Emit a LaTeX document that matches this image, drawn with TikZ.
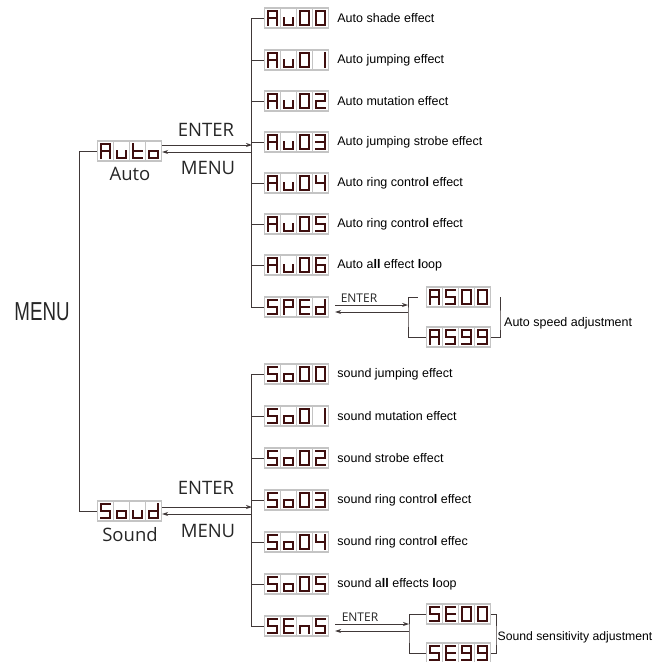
\documentclass[tikz,border=0pt]{standalone}
\usepackage{fontspec}
\setmainfont{Liberation Sans}
\newfontfamily\humfont{Open Sans}
\newfontfamily\narrowfont[FakeStretch=0.72]{Liberation Sans}
\usetikzlibrary{arrows.meta,positioning,calc}
\definecolor{ledred}{RGB}{62,14,14}
\definecolor{ledgrey}{RGB}{196,196,196}
\definecolor{treeline}{RGB}{64,56,56}

% seven segment glyphs, strokes x1/y1/x2/y2 in a -1..1 by -2..2 cell
\newcommand\defseg[2]{\expandafter\def\csname seg#1\endcsname{#2}}
\defseg{0}{-1/2/1/2, 1/2/1/-2, -1/-2/1/-2, -1/2/-1/-2}
\defseg{1}{1/2/1/-2}
\defseg{2}{-1/2/1/2, 1/2/1/0, -1/0/1/0, -1/0/-1/-2, -1/-2/1/-2}
\defseg{3}{-1/2/1/2, 1/2/1/-2, -1/0/1/0, -1/-2/1/-2}
\defseg{4}{-1/2/-1/0, -1/0/1/0, 1/2/1/-2}
\defseg{5}{-1/2/1/2, -1/2/-1/0, -1/0/1/0, 1/0/1/-2, -1/-2/1/-2}
\defseg{6}{-1/2/1/2, -1/2/-1/-2, -1/0/1/0, 1/0/1/-2, -1/-2/1/-2}
\defseg{9}{-1/2/1/2, 1/2/1/-2, -1/2/-1/0, -1/0/1/0, -1/-2/1/-2}
\defseg{A}{-1/2/1/2, 1/2/1/-2, -1/2/-1/-2, -1/0/1/0}
\defseg{S}{-1/2/1/2, -1/2/-1/0, -1/0/1/0, 1/0/1/-2, -1/-2/1/-2}
\defseg{E}{-1/2/1/2, -1/2/-1/-2, -1/0/1/0, -1/-2/1/-2}
\defseg{P}{-1/2/1/2, 1/2/1/0, -1/2/-1/-2, -1/0/1/0}
\defseg{d}{1/2/1/-2, -1/0/1/0, -1/0/-1/-2, -1/-2/1/-2}
\defseg{n}{-1/0/1/0, -1/0/-1/-2, 1/0/1/-2}
\defseg{o}{-1/0/1/0, 1/0/1/-2, -1/-2/1/-2, -1/0/-1/-2}
\defseg{t}{-1/2/-1/-2, -1/0/1/0, -1/-2/1/-2}
\defseg{u}{-1/0/-1/-2, -1/-2/1/-2, 1/0/1/-2}

\newcommand\ledword[2]{%
  \edef\ledlist{#2}%
  \foreach \ledch [count=\ledk] in \ledlist {%
    \begin{scope}[shift={($(#1.west)+(\ledk*16-8,0)$)}]
      \draw[ledcell] (-8,-10) rectangle (8,10);
      \edef\seglist{\csname seg\ledch\endcsname}%
      \foreach \xa/\ya/\xb/\yb in \seglist
        \draw[ledseg] (4.6*\xa,-3.7*\ya) -- (4.6*\xb,-3.7*\yb);
    \end{scope}
  }%
}

\begin{document}
\begin{tikzpicture}[x=1pt,y=-1pt,
  ledbox/.style={minimum width=64pt, minimum height=20pt, inner sep=0pt},
  ledcell/.style={draw=ledgrey, fill=white, line width=1.1pt},
  ledseg/.style={draw=ledred, line width=2pt, line cap=rect},
  fxlabel/.style={font=\fontsize{12.5}{14}\selectfont, inner sep=0pt},
  bigtxt/.style={font=\humfont\fontsize{18.5}{20}\selectfont, text=black!85, inner sep=0pt},
  smalltxt/.style={font=\humfont\fontsize{12}{14}\selectfont, text=black!85, inner sep=0pt},
  tree/.style={draw=treeline, line width=0.9pt},
  flow/.style={draw=treeline, line width=0.8pt, -{Stealth[length=6pt,width=4pt]}}]
  \useasboundingbox (0,0) rectangle (657,662);

  \node[font=\narrowfont\fontsize{26}{28}\selectfont, text=black!85, inner sep=0pt] (menu) at (42,312) {MENU};

  % auto branch
  \node[ledbox] (auto) at (130,151) {};
  \node[bigtxt, below=6pt of auto] (autolbl) {Auto};
  \node[bigtxt] (autoenter) at (206,130) {ENTER};
  \node[bigtxt] (automenu) at (208,168) {MENU};

  \node[ledbox] (au00) at (297,18) {};
  \node[ledbox] (au01) at (297,60) {};
  \node[ledbox] (au02) at (297,101) {};
  \node[ledbox] (au03) at (297,142) {};
  \node[ledbox] (au04) at (297,183) {};
  \node[ledbox] (au05) at (297,224) {};
  \node[ledbox] (au06) at (297,265) {};
  \node[ledbox] (sped) at (297,307) {};
  \node[fxlabel, right=8pt of au00] {Auto shade effect};
  \node[fxlabel, right=8pt of au01] {Auto jumping effect};
  \node[fxlabel, right=8pt of au02] {Auto mutation effect};
  \node[fxlabel, right=8pt of au03] {Auto jumping strobe effect};
  \node[fxlabel, right=8pt of au04] {Auto ring contro\textbf{l} effect};
  \node[fxlabel, right=8pt of au05] {Auto ring contro\textbf{l} effect};
  \node[fxlabel, right=8pt of au06] {Auto a\textbf{ll} effect \textbf{l}oop};

  \node[ledbox] (as00) at (459,297) {};
  \node[ledbox] (as99) at (459,337) {};
  \node[smalltxt] (spedenter) at (359,298) {ENTER};

  % sound branch
  \node[ledbox] (soud) at (130,511) {};
  \node[bigtxt, below=6pt of soud] (soudlbl) {Sound};
  \node[bigtxt] (soudenter) at (206,488) {ENTER};
  \node[bigtxt] (soudmenu) at (208,531) {MENU};

  \node[ledbox] (so00) at (297,374) {};
  \node[ledbox] (so01) at (297,416) {};
  \node[ledbox] (so02) at (297,458) {};
  \node[ledbox] (so03) at (297,500) {};
  \node[ledbox] (so04) at (297,542) {};
  \node[ledbox] (so05) at (297,584) {};
  \node[ledbox] (sens) at (297,626) {};
  \node[fxlabel, right=8pt of so00] {sound jumping effect};
  \node[fxlabel, right=8pt of so01] {sound mutation effect};
  \node[fxlabel, right=8pt of so02] {sound strobe effect};
  \node[fxlabel, right=8pt of so03] {sound ring contro\textbf{l} effect};
  \node[fxlabel, right=8pt of so04] {sound ring contro\textbf{l} effec};
  \node[fxlabel, right=8pt of so05] {sound a\textbf{ll} effects \textbf{l}oop};

  \node[ledbox] (se00) at (459,614) {};
  \node[ledbox] (se99) at (459,653) {};
  \node[smalltxt] (sensenter) at (360,617) {ENTER};

  % trees
  \draw[tree] (auto.west) -- ++(-18,0) |- (soud.west);
  \draw[tree] (au00.west) -| ($(sped.west)+(-13,0)$) -- (sped.west);
  \draw[tree] (au01.west) -- ++(-13,0);
  \draw[tree] (au02.west) -- ++(-13,0);
  \draw[tree] (au03.west) -- ++(-13,0);
  \draw[tree] (au04.west) -- ++(-13,0);
  \draw[tree] (au05.west) -- ++(-13,0);
  \draw[tree] (au06.west) -- ++(-13,0);
  \draw[tree] (so00.west) -| ($(sens.west)+(-13,0)$) -- (sens.west);
  \draw[tree] (so01.west) -- ++(-13,0);
  \draw[tree] (so02.west) -- ++(-13,0);
  \draw[tree] (so03.west) -- ++(-13,0);
  \draw[tree] (so04.west) -- ++(-13,0);
  \draw[tree] (so05.west) -- ++(-13,0);

  % enter / menu arrows
  \coordinate (atrunk) at (252,145);
  \coordinate (aback) at (252,152);
  \draw[flow] (auto.east |- atrunk) -- (atrunk);
  \draw[flow] (aback) -- (auto.east |- aback);
  \coordinate (strunk) at (252,507);
  \coordinate (sback) at (252,514);
  \draw[flow] (soud.east |- strunk) -- (strunk);
  \draw[flow] (sback) -- (soud.east |- sback);

  % speed bracket
  \coordinate (asl) at (408,317);
  \coordinate (asr) at (500,323);
  \coordinate (asin) at (408,305);
  \coordinate (asout) at (408,312);
  \draw[flow] ($(sped.east |- asin)+(6,0)$) -- (asin);
  \draw[flow] (asout) -- ($(sped.east |- asout)+(6,0)$);
  \draw[tree] ($(as00.west)+(-9,0)$) -| (asl) |- (as99.west);
  \draw[tree] ($(as00.east)+(9,0)$) -| (asr) |- (as99.east);
  \node[fxlabel, right=4pt of asr] {Auto speed adjustment};

  % sensitivity bracket
  \coordinate (sel) at (409,633);
  \coordinate (ser) at (496,637);
  \coordinate (sein) at (409,624);
  \coordinate (seout) at (409,631);
  \draw[flow] ($(sens.east |- sein)+(6,0)$) -- (sein);
  \draw[flow] (seout) -- ($(sens.east |- seout)+(6,0)$);
  \draw[tree] (se00.west) -| (sel) |- (se99.west);
  \draw[tree] (se00.east) -| (ser) |- (se99.east);
  \node[fxlabel, font=\fontsize{12.2}{14}\selectfont, right=1.5pt of ser] {Sound sensitivity adjustment};

  % displays
  \ledword{auto}{A,u,t,o}
  \ledword{soud}{S,o,u,d}
  \ledword{au00}{A,u,0,0}
  \ledword{au01}{A,u,0,1}
  \ledword{au02}{A,u,0,2}
  \ledword{au03}{A,u,0,3}
  \ledword{au04}{A,u,0,4}
  \ledword{au05}{A,u,0,5}
  \ledword{au06}{A,u,0,6}
  \ledword{sped}{S,P,E,d}
  \ledword{as00}{A,S,0,0}
  \ledword{as99}{A,S,9,9}
  \ledword{so00}{S,o,0,0}
  \ledword{so01}{S,o,0,1}
  \ledword{so02}{S,o,0,2}
  \ledword{so03}{S,o,0,3}
  \ledword{so04}{S,o,0,4}
  \ledword{so05}{S,o,0,5}
  \ledword{sens}{S,E,n,S}
  \ledword{se00}{S,E,0,0}
  \ledword{se99}{S,E,9,9}
\end{tikzpicture}
\end{document}
